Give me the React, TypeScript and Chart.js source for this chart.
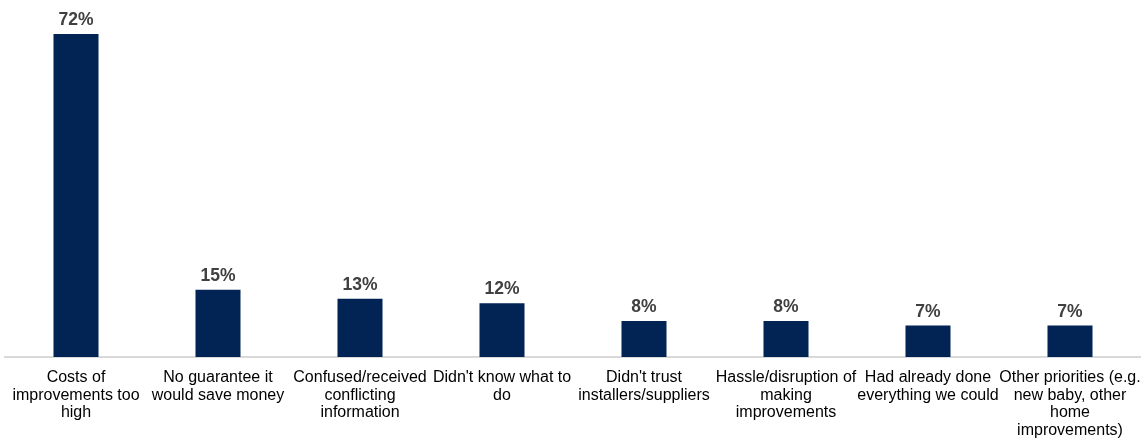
import React, { useEffect, useRef } from "react";
import { Chart, registerables } from "chart.js";

Chart.register(...registerables);

const categories: string[][] = [
  ["Costs of", "improvements too", "high"],
  ["No guarantee it", "would save money"],
  ["Confused/received", "conflicting", "information"],
  ["Didn't know what to", "do"],
  ["Didn't trust", "installers/suppliers"],
  ["Hassle/disruption of", "making", "improvements"],
  ["Had already done", "everything we could"],
  ["Other priorities (e.g.", "new baby, other", "home", "improvements)"],
];

const values: number[] = [72, 15, 13, 12, 8, 8, 7, 7];

const valueLabels: string[] = ["72%", "15%", "13%", "12%", "8%", "8%", "7%", "7%"];

const FONT = "'Liberation Sans', Arial, sans-serif";

const dataLabelPlugin = {
  id: "dataLabels",
  afterDatasetsDraw(chart: any) {
    const ctx = chart.ctx;
    const meta = chart.getDatasetMeta(0);
    ctx.save();
    ctx.font = `bold 17.5px ${FONT}`;
    ctx.fillStyle = "#404040";
    ctx.textAlign = "center";
    ctx.textBaseline = "bottom";
    meta.data.forEach((bar: any, i: number) => {
      ctx.fillText(valueLabels[i], bar.x, bar.y - 5);
    });
    ctx.restore();
  },
};

export default function App() {
  const ref = useRef<HTMLCanvasElement | null>(null);

  useEffect(() => {
    if (!ref.current) return;
    const chart = new Chart(ref.current, {
      type: "bar",
      data: {
        labels: categories,
        datasets: [
          {
            data: values,
            backgroundColor: "#012454",
            barPercentage: 0.317,
            categoryPercentage: 1,
          },
        ],
      },
      options: {
        animation: false,
        responsive: true,
        maintainAspectRatio: false,
        layout: { padding: { left: 5, right: 0, top: 0, bottom: 0 } },
        plugins: {
          legend: { display: false },
          tooltip: { enabled: false },
        },
        scales: {
          x: {
            grid: { display: false },
            border: { display: true, color: "#d9d9d9", width: 2 },
            ticks: {
              color: "#000000",
              font: { family: FONT, size: 16, lineHeight: 1.1 },
              maxRotation: 0,
              minRotation: 0,
              autoSkip: false,
              padding: 4,
            },
            afterFit(scale: any) {
              scale.height = 84;
              scale.paddingLeft = 0;
              scale.paddingRight = 0;
            },
          },
          y: {
            display: false,
            min: 0,
            max: 79.6,
          },
        },
      },
      plugins: [dataLabelPlugin],
    });
    return () => chart.destroy();
  }, []);

  return (
    <div style={{ position: "absolute", left: 0, top: 0, width: 1141, height: 441 }}>
      <canvas ref={ref} />
    </div>
  );
}
